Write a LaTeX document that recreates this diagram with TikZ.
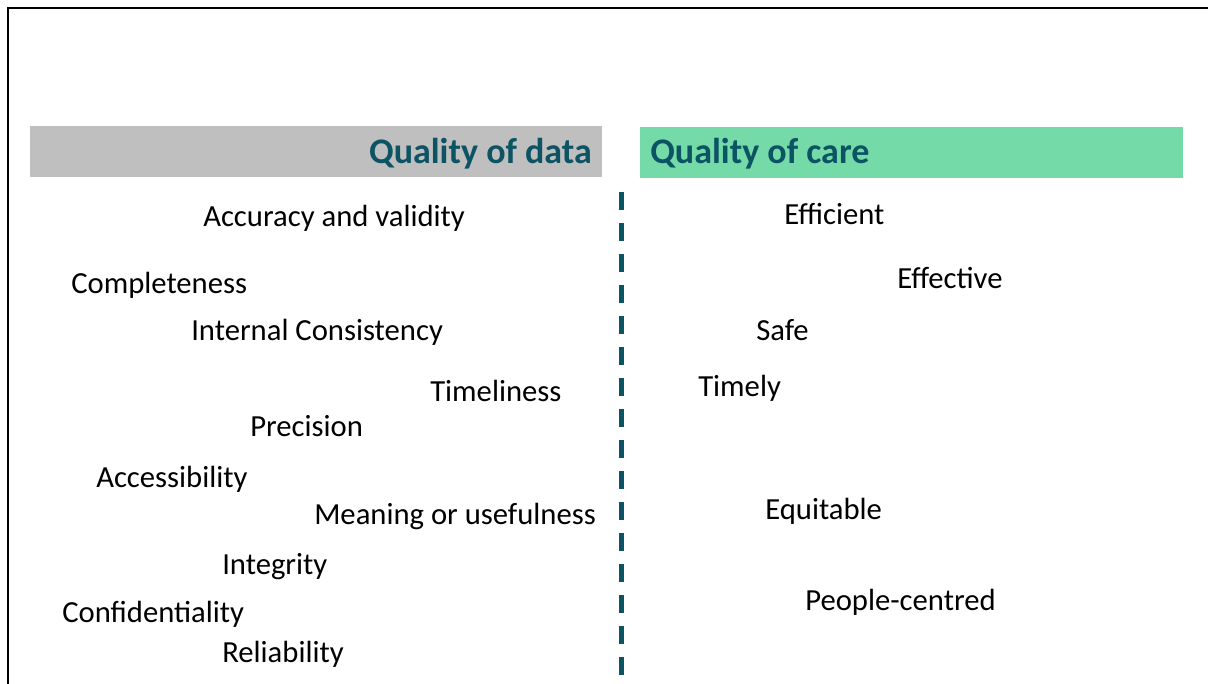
\documentclass[tikz,border=0pt]{standalone}
\usepackage{fontspec}
\setmainfont{Carlito}
\usepackage{tikz}

\definecolor{headgray}{HTML}{BFBFBF}
\definecolor{headgreen}{HTML}{74DBA8}
\definecolor{teal}{HTML}{0C5364}

\begin{document}
\begin{tikzpicture}[
    x=0.75pt, y=-0.75pt,
    every node/.style={inner sep=0pt},
    item/.style={font=\fontsize{23}{27}\selectfont, anchor=base west},
    title/.style={font=\fontsize{27}{32}\selectfont\bfseries, text=teal},
    divider/.style={draw=teal, line width=3.75pt, dash pattern=on 13.5pt off 9.75pt}
]
\useasboundingbox (0,0) rectangle (1208,684);

% Frame
\draw[line width=1.6pt] (8,684) -- (8,8) -- (1208,8);

% Header bars
\fill[headgray]  (30,126) rectangle (602,177);
\fill[headgreen] (640,127) rectangle (1183,178);
\node[title, anchor=base east] (hdata) at (592,164) {Quality of data};
\node[title, anchor=base west] (hcare) at (650,164) {Quality of care};

% Dimensions of data quality
\node[item] (acc)  at (203,227) {Accuracy and validity};
\node[item] (comp) at (71,294)  {Completeness};
\node[item] (cons) at (191,341) {Internal Consistency};
\node[item] (time) at (430,402) {Timeliness};
\node[item] (prec) at (250,437) {Precision};
\node[item] (axs)  at (96,488)  {Accessibility};
\node[item] (mean) at (314,525) {Meaning or usefulness};
\node[item] (integ) at (222,574) {Integrity};
\node[item] (conf) at (62,622)  {Confidentiality};
\node[item] (rel)  at (222,662) {Reliability};

% Dimensions of care quality
\node[item] (effi) at (784,225) {Efficient};
\node[item] (effe) at (897,289) {Effective};
\node[item] (safe) at (756,341) {Safe};
\node[item] (tmly) at (698,397) {Timely};
\node[item] (equi) at (765,520) {Equitable};
\node[item] (ppl)  at (805,610) {People-centred};

% Divider
\coordinate (divtop) at (621,192);
\coordinate (divbot) at (621,675);
\draw[divider] (divtop) -- (divbot);

\end{tikzpicture}
\end{document}
